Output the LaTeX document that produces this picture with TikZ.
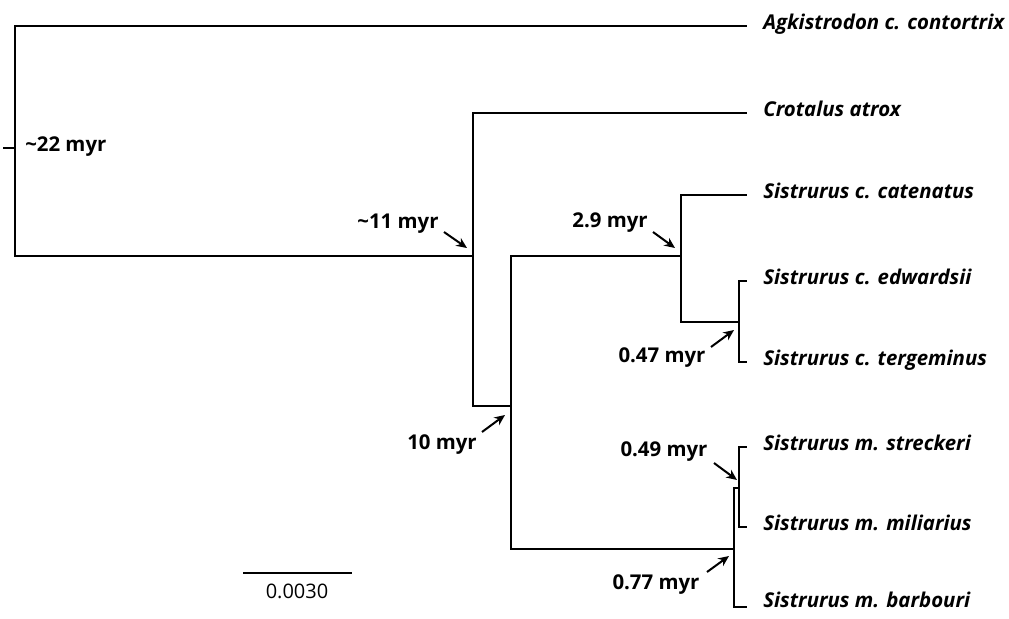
\documentclass[tikz,border=0pt]{standalone}
\usepackage{fontspec}
\setmainfont{Open Sans}
\usetikzlibrary{arrows.meta}
\begin{document}
\begin{tikzpicture}[x=0.75pt,y=-0.75pt,
  branch/.style={line width=1.5pt,line cap=rect,line join=miter},
  taxon/.style={anchor=base west,inner sep=0pt,font=\fontsize{15.3}{17}\selectfont\bfseries\itshape},
  age/.style={inner sep=0pt,font=\fontsize{15.3}{17}\selectfont\bfseries},
  pointer/.style={line width=1.5pt,-{Stealth[length=8pt,width=7pt]}}]
\useasboundingbox (0,0) rectangle (1009,618);
% junction coordinates
\coordinate (stub) at (4,148);
\coordinate (r) at (15,148);
\coordinate (rt) at (15,26);
\coordinate (rb) at (15,256);
\coordinate (n11t) at (473,113);
\coordinate (n11m) at (473,256);
\coordinate (n11b) at (473,406);
\coordinate (n10t) at (511,256);
\coordinate (n10m) at (511,406);
\coordinate (n10b) at (511,549);
\coordinate (n29t) at (681,195);
\coordinate (n29m) at (681,256);
\coordinate (n29b) at (681,322);
\coordinate (n47t) at (739,281);
\coordinate (n47m) at (739,322);
\coordinate (n47b) at (739,362);
\coordinate (n77t) at (734,488);
\coordinate (n77m) at (734,549);
\coordinate (n77b) at (734,607);
\coordinate (n49t) at (739,447);
\coordinate (n49m) at (739,488);
\coordinate (n49b) at (739,527);
% taxa (baseline about 3px below the branch)
\node[taxon] (agk) at (763,29) {Agkistrodon c. contortrix};
\node[taxon] (cro) at (763,116) {Crotalus atrox};
\node[taxon] (cat) at (763,198) {Sistrurus c. catenatus};
\node[taxon] (edw) at (763,284) {Sistrurus c. edwardsii};
\node[taxon] (ter) at (763,365) {Sistrurus c. tergeminus};
\node[taxon] (str) at (763,450) {Sistrurus m. streckeri};
\node[taxon] (mil) at (763,530) {Sistrurus m. miliarius};
\node[taxon] (bar) at (763,607) {Sistrurus m. barbouri};
% branches
\draw[branch] (stub) -- (r);
\draw[branch] ([xshift=-13]agk.base west |- rt) -- (rt) -- (rb) -- (n11m);
\draw[branch] ([xshift=-13]cro.base west |- n11t) -- (n11t) -- (n11b) -- (n10m);
\draw[branch] (n29m) -- (n10t) -- (n10b) -- (n77m);
\draw[branch] ([xshift=-13]cat.base west |- n29t) -- (n29t) -- (n29b) -- (n47m);
\draw[branch] ([xshift=-13]edw.base west |- n47t) -- (n47t) -- (n47b) -- ([xshift=-13]ter.base west |- n47b);
\draw[branch] (n77t) -- (n77b) -- ([xshift=-13]bar.base west |- n77b);
\draw[branch] (n77t) -- (n49m);
\draw[branch] ([xshift=-13]str.base west |- n49t) -- (n49t) -- (n49b) -- ([xshift=-13]mil.base west |- n49b);
% age labels
\node[age,anchor=west] (a22) at (25,147) {{\char"7E}22 myr};
\node[age] (a11) at (398,224) {{\char"7E}11 myr};
\node[age] (a29) at (610,223) {2.9 myr};
\node[age] (a47) at (662,358) {0.47 myr};
\node[age] (a49) at (664,452) {0.49 myr};
\node[age] (a77) at (656,585) {0.77 myr};
\node[age] (a10) at (442,445) {10 myr};
% pointers
\coordinate (p11s) at (444,232); \coordinate (p11e) at (467,248);
\coordinate (p29s) at (653,232); \coordinate (p29e) at (675,248);
\coordinate (p47s) at (711,347); \coordinate (p47e) at (734,330);
\coordinate (p49s) at (714,463); \coordinate (p49e) at (737,480);
\coordinate (p77s) at (707,572); \coordinate (p77e) at (729,556);
\coordinate (p10s) at (482,432); \coordinate (p10e) at (505,415);
\draw[pointer] (p11s) -- (p11e);
\draw[pointer] (p29s) -- (p29e);
\draw[pointer] (p47s) -- (p47e);
\draw[pointer] (p49s) -- (p49e);
\draw[pointer] (p77s) -- (p77e);
\draw[pointer] (p10s) -- (p10e);
% scale bar
\coordinate (sbl) at (243,573);
\coordinate (sbr) at (352,573);
\draw[line width=1.5pt] (sbl) -- (sbr);
\node[inner sep=0pt,font=\fontsize{15}{17}\selectfont] (sbt) at (297,591) {0.0030};
\end{tikzpicture}
\end{document}
